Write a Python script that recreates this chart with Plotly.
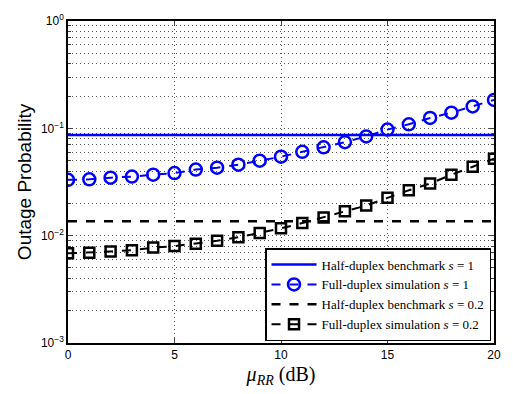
import plotly.graph_objects as go

mu_rr = list(range(0, 21))
hd_s1 = 0.0865
hd_s02 = 0.0136
fd_s1 = [0.0331, 0.0335, 0.0347, 0.0355, 0.0370, 0.0383, 0.0413, 0.0430, 0.0458, 0.0500,
         0.0544, 0.0604, 0.0665, 0.0743, 0.0841, 0.0973, 0.109, 0.125, 0.140, 0.160, 0.184]
fd_s02 = [0.00684, 0.00693, 0.00713, 0.00732, 0.00774, 0.0080, 0.0084, 0.00895, 0.00966, 0.01057,
          0.0117, 0.0131, 0.0148, 0.0169, 0.0191, 0.0225, 0.0265, 0.0306, 0.0370, 0.0439, 0.0522]
y_tickvals = [1e-3, 1e-2, 1e-1, 1]
y_ticktext = ["10<sup>−3</sup>", "10<sup>−2</sup>", "10<sup>−1</sup>", "10<sup>0</sup>"]
x_tickvals = [0, 5, 10, 15, 20]

fig = go.Figure()
fig.add_trace(go.Scatter(x=[mu_rr[0], mu_rr[-1]], y=[hd_s1, hd_s1], mode="lines",
                         line=dict(color="#0000ff", width=2.5),
                         name="Half-duplex benchmark <i>s</i> = 1"))
fig.add_trace(go.Scatter(x=mu_rr, y=fd_s1, mode="lines+markers",
                         line=dict(color="#0000ff", width=2, dash="dash"),
                         marker=dict(symbol="circle-open", size=12, color="#0000ff",
                                     line=dict(width=2.5, color="#0000ff")),
                         name="Full-duplex simulation <i>s</i> = 1"))
fig.add_trace(go.Scatter(x=[mu_rr[0], mu_rr[-1]], y=[hd_s02, hd_s02], mode="lines",
                         line=dict(color="black", width=2.5, dash="dash"),
                         name="Half-duplex benchmark <i>s</i> = 0.2"))
fig.add_trace(go.Scatter(x=mu_rr, y=fd_s02, mode="lines+markers",
                         line=dict(color="black", width=2, dash="dash"),
                         marker=dict(symbol="square-open", size=10, color="black",
                                     line=dict(width=2.5, color="black")),
                         name="Full-duplex simulation <i>s</i> = 0.2"))

grid_dash = "1px,3px"
fig.update_layout(
    width=513, height=394,
    margin=dict(l=68, r=14, t=15, b=46),
    paper_bgcolor="white", plot_bgcolor="white",
    font=dict(family="Liberation Sans, Arial", size=12, color="black"),
    showlegend=True,
    legend=dict(x=0.993, y=0.006, xanchor="right", yanchor="bottom",
                bgcolor="white", bordercolor="black", borderwidth=1.5,
                font=dict(family="Liberation Serif, Times New Roman", size=13),
                tracegroupgap=0, itemwidth=45),
)
fig.update_xaxes(range=[0, 20], tickvals=x_tickvals, ticks="inside", ticklen=5,
                 showline=True, linecolor="black", linewidth=1.5, mirror="ticks",
                 showgrid=True, gridcolor="#555555", griddash=grid_dash, gridwidth=1,
                 zeroline=False,
                 title=dict(text="<i>μ</i><sub><i>RR</i></sub> (dB)",
                            font=dict(family="Liberation Serif, Times New Roman", size=20),
                            standoff=6))
fig.update_yaxes(type="log", range=[-3, 0], tickvals=y_tickvals, ticktext=y_ticktext,
                 ticks="inside", ticklen=5,
                 showline=True, linecolor="black", linewidth=1.5, mirror="ticks",
                 showgrid=True, gridcolor="#555555", griddash=grid_dash, gridwidth=1,
                 minor=dict(ticks="inside", ticklen=3, showgrid=True, gridcolor="#555555",
                            griddash=grid_dash, gridwidth=1, dtick="D1"),
                 zeroline=False,
                 title=dict(text="Outage Probability", font=dict(size=19), standoff=4))

fig.write_html("out.html")
